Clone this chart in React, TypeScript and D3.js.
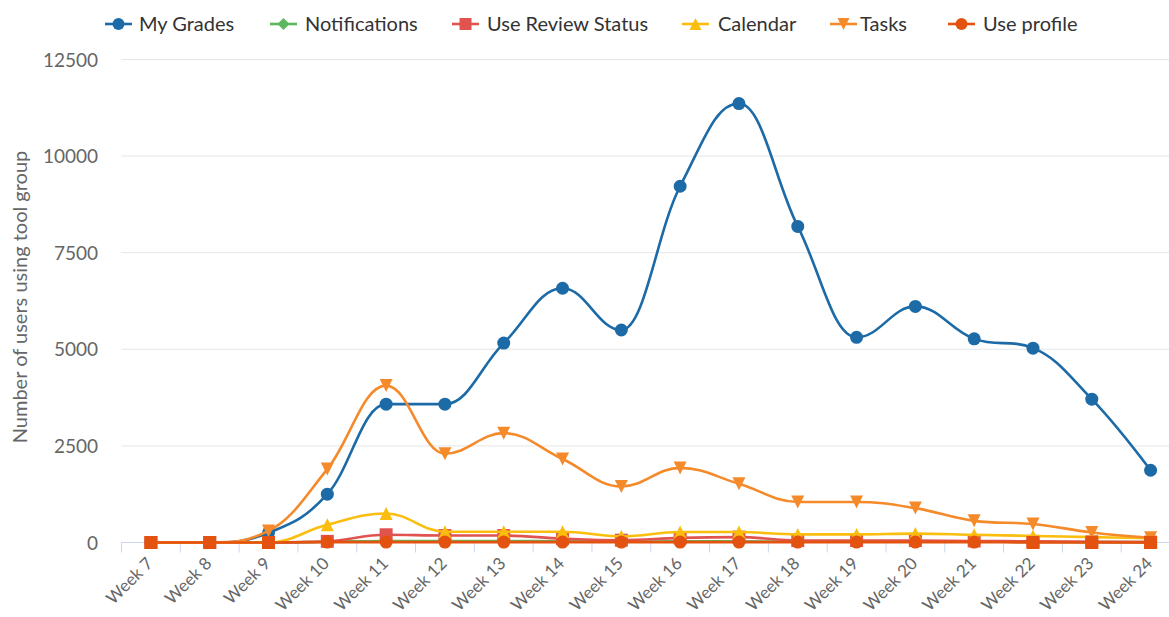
import React from "react";
import * as d3 from "d3";

const weeks = ["Week 7","Week 8","Week 9","Week 10","Week 11","Week 12","Week 13","Week 14","Week 15","Week 16","Week 17","Week 18","Week 19","Week 20","Week 21","Week 22","Week 23","Week 24"];
const myGrades = [0,0,250,1250,3580,3580,5160,6580,5500,9220,11360,8180,5310,6110,5270,5030,3710,1870];
const notifications = [0,0,0,20,40,40,40,30,20,30,30,20,20,20,20,15,10,10];
const reviewStatus = [0,0,0,30,200,180,180,100,60,120,140,50,50,50,40,30,20,10];
const calendar = [0,0,0,460,750,280,280,280,160,270,270,210,210,230,200,170,140,110];
const tasks = [0,0,300,1900,4060,2300,2830,2160,1450,1930,1520,1050,1050,890,560,480,260,120];
const useProfile = [0,0,0,10,10,10,10,10,10,10,10,10,10,10,10,0,0,0];
const profileSymbols = ["square","square","square","circle","circle","circle","circle","circle","circle","circle","circle","circle","circle","circle","circle","square","square","square"];
const yTicks = [0,2500,5000,7500,10000,12500];

const seriesNames = ["My Grades","Notifications","Use Review Status","Calendar","Tasks","Use profile"];
const seriesData = [myGrades, notifications, reviewStatus, calendar, tasks, useProfile];
const seriesColors = ["#1c6aa6","#5cb85c","#e0534f","#fbbd0e","#f58a2b","#e3520f"];
const seriesSymbols = ["circle","diamond","square","triangle","triangle-down","circle"];

const W = 1169, H = 617;
const left = 121.5, right = 1180, top = 59.5, bottom = 542.5;

function markerPath(sym: string, x: number, y: number, r: number) {
  switch (sym) {
    case "square": return `M${x-r},${y-r}h${2*r}v${2*r}h${-2*r}Z`;
    case "diamond": return `M${x},${y-r}L${x+r},${y}L${x},${y+r}L${x-r},${y}Z`;
    case "triangle": return `M${x},${y-r}L${x+r},${y+r}L${x-r},${y+r}Z`;
    case "triangle-down": return `M${x-r},${y-r}L${x+r},${y-r}L${x},${y+r}Z`;
    default: return `M${x-r},${y}a${r},${r} 0 1,0 ${2*r},0a${r},${r} 0 1,0 ${-2*r},0Z`;
  }
}

function splinePath(pts: [number, number][]) {
  const p = d3.path();
  const sm = 1.5, den = sm + 1;
  const ctrl: { lx: number; ly: number; rx: number; ry: number }[] = [];
  pts.forEach((pt, i) => {
    const [x, y] = pt;
    if (i > 0 && i < pts.length - 1) {
      const [lx0, ly0] = pts[i - 1];
      const [nx, ny] = pts[i + 1];
      const lcx = (sm * x + lx0) / den;
      let lcy = (sm * y + ly0) / den;
      const rcx = (sm * x + nx) / den;
      let rcy = (sm * y + ny) / den;
      if (rcx !== lcx) {
        const corr = ((rcy - lcy) * (rcx - x)) / (rcx - lcx) + y - rcy;
        lcy += corr; rcy += corr;
      }
      if (lcy > ly0 && lcy > y) { lcy = Math.max(ly0, y); rcy = 2 * y - lcy; }
      else if (lcy < ly0 && lcy < y) { lcy = Math.min(ly0, y); rcy = 2 * y - lcy; }
      if (rcy > ny && rcy > y) { rcy = Math.max(ny, y); lcy = 2 * y - rcy; }
      else if (rcy < ny && rcy < y) { rcy = Math.min(ny, y); lcy = 2 * y - rcy; }
      ctrl.push({ lx: lcx, ly: lcy, rx: rcx, ry: rcy });
    } else {
      ctrl.push({ lx: x, ly: y, rx: x, ry: y });
    }
  });
  pts.forEach((pt, i) => {
    if (i === 0) p.moveTo(pt[0], pt[1]);
    else p.bezierCurveTo(ctrl[i - 1].rx, ctrl[i - 1].ry, ctrl[i].lx, ctrl[i].ly, pt[0], pt[1]);
  });
  return p.toString();
}

export default function App() {
  const x = d3.scaleBand<string>().domain(weeks).range([left, right]);
  const y = d3.scaleLinear().domain([0, 12500]).range([bottom, top]);
  const cx = (w: string) => (x(w) as number) + x.bandwidth() / 2;
  const font = "Lato, 'Open Sans', sans-serif";

  const legendItems = [
    { x: 105, tx: 139 },
    { x: 270, tx: 305 },
    { x: 452, tx: 487 },
    { x: 682, tx: 718 },
    { x: 830, tx: 860 },
    { x: 948, tx: 983 },
  ];

  return (
    <svg width={W} height={H} style={{ position: "absolute", left: 0, top: 0, background: "#fff" }} fontFamily={font}>
      {yTicks.map((t) => (
        <g key={t}>
          {t > 0 && <line x1={left} x2={W} y1={y(t)} y2={y(t)} stroke="#e6e6e6" strokeWidth={1} />}
          <text x={98} y={y(t) + 7} textAnchor="end" fontSize={19} fill="#666">{t}</text>
        </g>
      ))}
      <text transform={`translate(27,${(top + bottom) / 2 - 4}) rotate(-90)`} textAnchor="middle" fontSize={20} fill="#666">
        Number of users using tool group
      </text>
      <line x1={left} x2={W} y1={bottom} y2={bottom} stroke="#ccd6eb" strokeWidth={1} />
      {weeks.map((w) => (
        <line key={w} x1={x(w) as number} x2={x(w) as number} y1={bottom} y2={bottom + 10} stroke="#ccd6eb" strokeWidth={1} />
      ))}
      {weeks.map((w) => (
        <text key={w} transform={`translate(${cx(w) + 3},${bottom + 22}) rotate(-45)`} textAnchor="end" fontSize={17} fill="#666">{w}</text>
      ))}
      {seriesData.map((data, si) => {
        const pts: [number, number][] = data.map((v, i) => [cx(weeks[i]), y(v)]);
        return (
          <g key={si}>
            <path d={splinePath(pts)} fill="none" stroke={seriesColors[si]} strokeWidth={2.6} />
            {pts.map((pt, i) => {
              const sym = si === 5 ? profileSymbols[i] : seriesSymbols[si];
              return <path key={i} d={markerPath(sym, pt[0], pt[1], 6.5)} fill={seriesColors[si]} />;
            })}
          </g>
        );
      })}
      {seriesNames.map((n, i) => {
        const it = legendItems[i];
        const ly = 24;
        return (
          <g key={n}>
            <line x1={it.x} x2={it.x + 27} y1={ly} y2={ly} stroke={seriesColors[i]} strokeWidth={2.6} />
            <path d={markerPath(seriesSymbols[i], it.x + 13.5, ly, 6)} fill={seriesColors[i]} />
            <text x={it.tx} y={ly + 7} fontSize={20} fill="#333">{n}</text>
          </g>
        );
      })}
    </svg>
  );
}
